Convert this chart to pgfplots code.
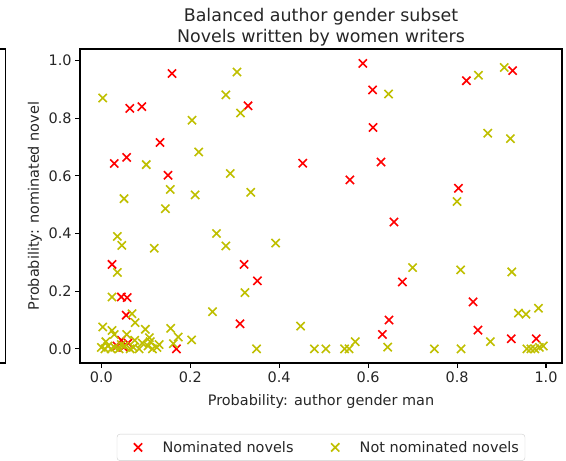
\documentclass[border=0pt]{standalone}
\usepackage{pgfplots}
\pgfplotsset{compat=1.18}
\usepackage{fontspec}
\setmainfont{DejaVu Sans}
\definecolor{mplred}{rgb}{1,0,0}
\definecolor{mplyel}{rgb}{0.75,0.75,0}
\pgfplotstableread{
x y
0.159 0.955
0.064 0.834
0.091 0.840
0.330 0.843
0.132 0.716
0.057 0.664
0.029 0.643
0.150 0.602
0.588 0.990
0.610 0.898
0.611 0.768
0.453 0.644
0.629 0.648
0.559 0.586
0.658 0.440
0.821 0.930
0.925 0.965
0.803 0.557
0.024 0.293
0.045 0.180
0.058 0.178
0.056 0.117
0.169 0.000
0.321 0.293
0.351 0.236
0.312 0.087
0.677 0.232
0.836 0.163
0.647 0.100
0.632 0.050
0.847 0.065
0.922 0.035
0.978 0.035
0.035 0.010
0.045 0.030
0.060 0.020
0.050 0.005
}\nominated
\pgfplotstableread{
x y
0.305 0.960
0.003 0.870
0.280 0.881
0.313 0.818
0.204 0.793
0.219 0.683
0.101 0.639
0.290 0.608
0.155 0.553
0.211 0.534
0.051 0.521
0.144 0.486
0.036 0.390
0.046 0.359
0.119 0.349
0.259 0.400
0.280 0.357
0.646 0.884
0.336 0.543
0.392 0.367
0.848 0.949
0.906 0.976
0.869 0.748
0.920 0.729
0.800 0.511
0.036 0.265
0.024 0.180
0.069 0.122
0.076 0.091
0.003 0.076
0.024 0.064
0.029 0.050
0.057 0.050
0.099 0.068
0.108 0.039
0.156 0.071
0.173 0.041
0.203 0.031
0.162 0.018
0.323 0.195
0.250 0.129
0.448 0.079
0.349 0.000
0.479 0.000
0.505 0.000
0.547 0.000
0.557 0.000
0.571 0.025
0.700 0.282
0.808 0.274
0.923 0.267
0.938 0.124
0.955 0.120
0.983 0.141
0.644 0.006
0.875 0.025
0.749 0.000
0.809 0.000
0.957 0.000
0.966 0.000
0.975 0.000
0.985 0.005
0.994 0.010
0.000 0.005
0.008 0.000
0.015 0.010
0.022 0.000
0.030 0.005
0.040 0.000
0.052 0.010
0.065 0.000
0.072 0.005
0.085 0.000
0.092 0.020
0.105 0.010
0.115 0.000
0.125 0.005
0.130 0.015
0.075 0.030
0.010 0.025
0.110 0.025
0.045 0.015
}\notnominated
\begin{document}
\begin{tikzpicture}
\begin{axis}[name=ax, scale only axis, width=482bp, height=314bp,
  xmin=-0.048, xmax=1.036, ymin=-0.049, ymax=1.04,
  xtick={0,0.2,0.4,0.6,0.8,1.0}, ytick={0,0.2,0.4,0.6,0.8,1.0},
  /pgf/number format/assume math mode=true,
  xticklabel style={/pgf/number format/fixed, /pgf/number format/fixed zerofill, /pgf/number format/precision=1},
  yticklabel style={/pgf/number format/fixed, /pgf/number format/fixed zerofill, /pgf/number format/precision=1},
  tick align=outside, tick pos=left, major tick length=4.9bp,
  every tick/.style={black, line width=1.1bp},
  axis line style={line width=1.1bp, black},
  tick label style={font=\fontsize{14.5}{17}\selectfont, text=black!85},
  label style={font=\fontsize{14.5}{17}\selectfont, text=black!85},
  xlabel style={yshift=-5bp},
  title={Balanced author gender subset\\Novels written by women writers},
  title style={align=center, font=\fontsize{17.5}{21}\selectfont, text=black!85, yshift=-7bp},
  xlabel={Probability: author gender man},
  ylabel={Probability: nominated novel},
  legend columns=2,
  legend style={at={(0.5,-0.226)}, anchor=north, draw=black!20, rounded corners=3bp,
    font=\fontsize{14.5}{17}\selectfont, text=black!85, inner ysep=5bp, inner xsep=4bp,
    /tikz/every odd column/.append style={column sep=14bp},
    /tikz/every even column/.append style={column sep=22.7bp}},
  legend image code/.code={\path[draw=none,fill=none] (-8.5bp,0) -- (0.6cm,0);
    \draw plot coordinates {(0.3cm,0cm)};},
  legend cell align=left,
  clip=false,
]
\addplot[only marks, mark=x, mark size=5.8bp, mplred, line width=1.6bp] table[x=x,y=y] {\nominated};
\addlegendentry{Nominated novels}
\addplot[only marks, mark=x, mark size=5.8bp, mplyel, line width=1.6bp] table[x=x,y=y] {\notnominated};
\addlegendentry{Not nominated novels}
\end{axis}
\draw[line width=1.1bp] ([xshift=-80bp]ax.north west) -- ([xshift=-74.5bp]ax.north west) -- ([xshift=-74.5bp]ax.south west) -- ([xshift=-80bp]ax.south west);
\pgfresetboundingbox
\useasboundingbox ([xshift=-80bp,yshift=-98bp]ax.south west) rectangle ([xshift=4bp,yshift=49bp]ax.north east);
\end{tikzpicture}
\end{document}
